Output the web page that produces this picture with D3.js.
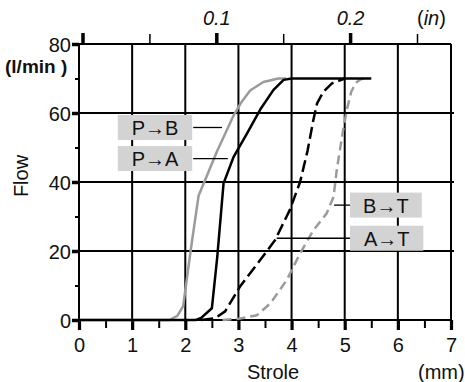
<!DOCTYPE html>
<html>
<head>
<meta charset="utf-8">
<script src="https://cdn.jsdelivr.net/npm/d3@7"></script>
<style>
  html, body { margin: 0; padding: 0; background: #fff; }
  svg { display: block; }
  text { font-family: "Liberation Sans", Arial, Helvetica, sans-serif; fill: #111; }
</style>
</head>
<body>
<svg id="chart" width="465" height="382"></svg>
<script>
// ---------- data ----------
const xTicks = [0, 1, 2, 3, 4, 5, 6, 7];            // stroke (mm)
const xMinorTicks = [0.5, 1.5, 2.5, 3.5, 4.5, 5.5, 6.5];
const yTicks = [0, 20, 40, 60, 80];                 // flow (l/min)
const yMinorTicks = [10, 30, 50, 70];
const inchMajor = [0, 0.1, 0.2];
const inchMinor = [0.05, 0.15, 0.25];

// P→B (solid gray)
const pbX = [0, 1.7, 1.85, 1.96, 2.1, 2.25, 2.6, 2.9, 3.05, 3.22, 3.47, 3.75, 3.9];
const pbY = [0, 0, 1.2, 4, 20, 36, 49, 59, 63, 66.5, 69, 70, 70];
// P→A (solid black)
const paX = [0, 2.2, 2.3, 2.5, 2.6, 2.72, 2.91, 3.16, 3.41, 3.66, 3.85, 4.0, 5.5];
const paY = [0, 0, 0.6, 3.4, 18, 39.6, 47.3, 54, 61, 66.7, 69.6, 70, 70];
// A→T (dashed black)
const atX = [2.3, 2.56, 2.75, 3.03, 3.47, 3.69, 3.97, 4.16, 4.3, 4.41, 4.48, 4.6, 4.76, 5.0];
const atY = [0, 0.5, 2.5, 9.7, 18.6, 23.2, 32, 40, 49, 58, 62.8, 66.2, 68.6, 70];
// B→T (dashed gray)
const btX = [2.7, 3.03, 3.35, 3.6, 3.91, 4.16, 4.41, 4.66, 4.79, 4.85, 4.91, 4.98, 5.04, 5.12, 5.2, 5.3, 5.38];
const btY = [0, 0.4, 1.4, 4.8, 11.6, 19.3, 26, 30.9, 35.7, 43.5, 49.3, 56, 60.9, 66, 68.6, 69.8, 70];

// annotations: label text, box left/right (mm), box centre flow, leader end (mm)
const labelNames = ["P→B", "P→A", "B→T", "A→T"];
const labelBoxX0 = [0.73, 0.73, 5.1, 5.1];
const labelBoxX1 = [2.13, 2.13, 6.45, 6.48];
const labelFlow = [55.8, 46.8, 33.3, 23.7];
const leaderX = [2.69, 2.8, 4.8, 3.72];

// ---------- scales ----------
const svg = d3.select("#chart");
const x = d3.scaleLinear().domain([0, 7]).range([79, 451]);
const y = d3.scaleLinear().domain([0, 80]).range([320, 44]);
const xin = d3.scaleLinear().domain([0, 0.25]).range([82.5, 417]);

const GRAY = "#9b9b9b";

// ---------- grid ----------
const grid = svg.append("g");
grid.selectAll("line.v").data(xTicks).join("line")
  .attr("x1", d => x(d)).attr("x2", d => x(d))
  .attr("y1", y(80)).attr("y2", y(0))
  .attr("stroke", "#000").attr("stroke-width", 2);
grid.selectAll("line.h").data(yTicks).join("line")
  .attr("x1", x(0)).attr("x2", d => (d === 20 || d === 40 || d === 60) ? x(7) + 3 : x(7))
  .attr("y1", d => y(d)).attr("y2", d => y(d))
  .attr("stroke", "#000").attr("stroke-width", 2);

// ---------- axes ----------
function styleAxis(g, w) {
  g.select(".domain").remove();
  g.selectAll(".tick line").attr("stroke", "#000").attr("stroke-width", w);
  g.selectAll(".tick text").attr("font-size", 20).attr("fill", "#111")
    .attr("font-family", '"Liberation Sans", Arial, sans-serif');
}
// bottom
svg.append("g").attr("transform", `translate(0,${y(0)})`)
  .call(d3.axisBottom(x).tickValues(xMinorTicks).tickSize(8).tickFormat(""))
  .call(g => styleAxis(g, 2));
svg.append("g").attr("transform", `translate(0,${y(0)})`)
  .call(d3.axisBottom(x).tickValues(xTicks).tickSize(10).tickPadding(8).tickFormat(d3.format("d")))
  .call(g => styleAxis(g, 3.2));
// left
svg.append("g").attr("transform", `translate(${x(0)},0)`)
  .call(d3.axisLeft(y).tickValues(yMinorTicks).tickSize(4).tickFormat(""))
  .call(g => styleAxis(g, 2));
svg.append("g").attr("transform", `translate(${x(0)},0)`)
  .call(d3.axisLeft(y).tickValues(yTicks).tickSize(7).tickPadding(1).tickFormat(d3.format("d")))
  .call(g => styleAxis(g, 3.5))
  .call(g => g.selectAll(".tick text").attr("dy", "0.36em"));
// top (inches)
svg.append("g").attr("transform", `translate(0,${y(80)})`)
  .call(d3.axisTop(xin).tickValues(inchMinor).tickSize(10).tickFormat(""))
  .call(g => styleAxis(g, 1.5));
svg.append("g").attr("transform", `translate(0,${y(80)})`)
  .call(d3.axisTop(xin).tickValues(inchMajor).tickSize(11).tickPadding(8)
    .tickFormat(d => d === 0 ? "" : d3.format(".1f")(d)))
  .call(g => styleAxis(g, 3.5))
  .call(g => g.selectAll(".tick text").attr("font-style", "italic"));

// ---------- curves ----------
const line = d3.line().x(d => x(d[0])).y(d => y(d[1])).curve(d3.curveLinear);
const zip = (a, b) => a.map((v, i) => [v, b[i]]);
const curves = svg.append("g").attr("fill", "none").attr("stroke-linejoin", "round");
curves.append("path").attr("d", line(zip(pbX, pbY)))
  .attr("stroke", GRAY).attr("stroke-width", 2.5);
curves.append("path").attr("d", line(zip(btX, btY)))
  .attr("stroke", GRAY).attr("stroke-width", 2.5).attr("stroke-dasharray", "9,5");
curves.append("path").attr("d", line(zip(atX, atY)))
  .attr("stroke", "#000").attr("stroke-width", 2.5).attr("stroke-dasharray", "12,5");
curves.append("path").attr("d", line(zip(paX, paY)))
  .attr("stroke", "#000").attr("stroke-width", 2.5);

// ---------- labels ----------
const ann = labelNames.map((t, i) => ({t, x0: labelBoxX0[i], x1: labelBoxX1[i], f: labelFlow[i], lx: leaderX[i]}));
const ag = svg.append("g");
ag.selectAll("rect").data(ann).join("rect")
  .attr("x", d => x(d.x0)).attr("width", d => x(d.x1) - x(d.x0))
  .attr("y", d => y(d.f) - 12.5).attr("height", 25)
  .attr("fill", "#d3d3d3");
ag.selectAll("line").data(ann).join("line")
  .attr("x1", d => d.lx < d.x0 ? x(d.x0) : x(d.x1) + 1)
  .attr("x2", d => x(d.lx))
  .attr("y1", d => y(d.f)).attr("y2", d => y(d.f))
  .attr("stroke", "#000").attr("stroke-width", 1.3);
ag.selectAll("text").data(ann).join("text")
  .attr("x", d => (x(d.x0) + x(d.x1)) / 2).attr("y", d => y(d.f) + 7.5)
  .attr("text-anchor", "middle").attr("font-size", 20)
  .text(d => d.t);

// ---------- titles ----------
svg.append("text").attr("x", 5).attr("y", 73).attr("font-size", 19)
  .attr("font-weight", "bold").text("(l/min )");
svg.append("text").attr("transform", "translate(28,176) rotate(-90)")
  .attr("text-anchor", "middle").attr("font-size", 20).text("Flow");
svg.append("text").attr("x", 273).attr("y", 379).attr("text-anchor", "middle")
  .attr("font-size", 20).text("Strole");
svg.append("text").attr("x", 418).attr("y", 379).attr("font-size", 20).text("(mm)");
const inT = svg.append("text").attr("x", 417).attr("y", 25).attr("font-size", 20);
inT.append("tspan").text("(");
inT.append("tspan").attr("font-style", "italic").text("in");
inT.append("tspan").text(")");
</script>
</body>
</html>
